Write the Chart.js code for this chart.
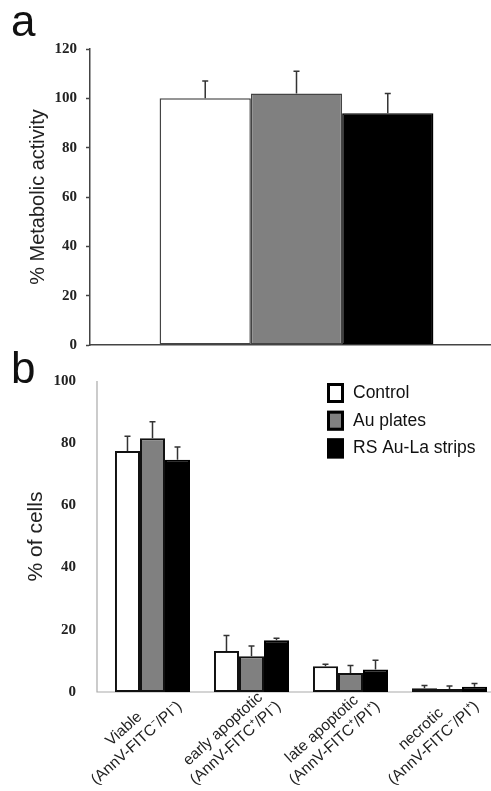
<!DOCTYPE html>
<html>
<head>
<meta charset="utf-8">
<script src="https://cdn.jsdelivr.net/npm/chart.js@4.4.0/dist/chart.umd.min.js"></script>
<style>
  html, body { margin: 0; padding: 0; background: #fff; overflow: hidden; }
  #page { position: relative; width: 491px; height: 791px; overflow: hidden; }
  canvas { position: absolute; left: 0; }
  #chart-a { top: 0; }
  #chart-b { top: 350px; }
  .panel { position: absolute; font: 44px/44px "Liberation Sans", Arial, sans-serif; color: #111; }
</style>
</head>
<body>
<div id="page">
  <canvas id="chart-a" width="505" height="363"></canvas>
  <canvas id="chart-b" width="505" height="441"></canvas>
  <div class="panel" style="left:11px; top:-1px">a</div>
  <div class="panel" style="left:11px; top:346px">b</div>
</div>
<script>
const SERIES = ["Control", "Au plates", "RS Au-La strips"];

// panel a - metabolic activity
const metabolicCats = [""];
const metabolicControl = [100];
const metabolicAu = [102];
const metabolicRS = [94];
const metabolicControlErr = [7];
const metabolicAuErr = [9];
const metabolicRSErr = [8];

// panel b - annexin V / PI staining
const cellCats = [
    ["Viable", "(AnnV-FITC⁻/PI⁻)"],
    ["early apoptotic", "(AnnV-FITC⁺/PI⁻)"],
    ["late apoptotic", "(AnnV-FITC⁺/PI⁺)"],
    ["necrotic", "(AnnV-FITC⁻/PI⁺)"],
];
const cellControl = [77.5, 13.2, 8.3, 1.2];
const cellAu = [81.6, 11.5, 6.1, 1.0];
const cellRS = [74.7, 16.6, 7.2, 1.7];
const cellControlErr = [4.7, 5.0, 0.6, 0.9];
const cellAuErr = [5.3, 3.3, 2.4, 0.9];
const cellRSErr = [4.1, 0.7, 3.0, 1.0];

const SANS = '"Liberation Sans", Arial, sans-serif';
const SERIF = '"Liberation Serif", "Times New Roman", serif';
const fills = ["#ffffff", "#808080", "#000000"];

// upper error bars only, like the figure
const errorBars = {
    id: "errorBars",
    afterDatasetsDraw(chart, args, opts) {
        const { ctx, scales: { y } } = chart;
        ctx.save();
        ctx.strokeStyle = "#333";
        ctx.lineWidth = 1.5;
        chart.data.datasets.forEach((ds, i) => {
            chart.getDatasetMeta(i).data.forEach((bar, j) => {
                const top = y.getPixelForValue(ds.data[j] + ds.errors[j]);
                ctx.beginPath();
                ctx.moveTo(bar.x, bar.y);
                ctx.lineTo(bar.x, top);
                ctx.moveTo(bar.x - opts.cap, top);
                ctx.lineTo(bar.x + opts.cap, top);
                ctx.stroke();
            });
        });
        ctx.restore();
    },
};

// panel b axes sit a little left of the first group
const offsetAxes = {
    id: "offsetAxes",
    beforeDatasetsDraw(chart) {
        const { ctx, chartArea: { left, right, top, bottom } } = chart;
        ctx.save();
        ctx.strokeStyle = "#aaa";
        ctx.lineWidth = 1.2;
        ctx.beginPath();
        ctx.moveTo(left - 6, top);
        ctx.lineTo(left - 6, bottom);
        ctx.lineTo(right, bottom);
        ctx.stroke();
        ctx.restore();
    },
};

// two-line labels, centred and slanted
const slantedLabels = {
    id: "slantedLabels",
    afterDraw(chart) {
        const { ctx, chartArea, scales: { x } } = chart;
        ctx.save();
        ctx.font = "15.5px " + SANS;
        ctx.fillStyle = "#222";
        ctx.textAlign = "center";
        ctx.textBaseline = "middle";
        chart.data.labels.forEach((lines, i) => {
            ctx.save();
            ctx.translate(x.getPixelForTick(i), chartArea.bottom);
            ctx.rotate(-42 * Math.PI / 180);
            lines.forEach((line, k) => {
                ctx.fillText(line, -46, 18 + (k - 0.5) * 19);
            });
            ctx.restore();
        });
        ctx.restore();
    },
};

const boxLegend = {
    id: "boxLegend",
    afterDraw(chart) {
        const { ctx } = chart;
        ctx.save();
        ctx.font = "17.5px " + SANS;
        ctx.textBaseline = "middle";
        chart.data.datasets.forEach((ds, i) => {
            const y = 43 + i * 27.7;
            ctx.fillStyle = ds.backgroundColor;
            ctx.fillRect(327, y - 10, 17, 20);
            ctx.lineWidth = 3;
            ctx.strokeStyle = "#000";
            ctx.strokeRect(328.5, y - 8.5, 14, 17);
            ctx.fillStyle = "#111";
            ctx.fillText(ds.label, 353, y);
        });
        ctx.restore();
    },
};

function makeSets(values, errors, border, width) {
    return values.map((data, i) => ({
        label: SERIES[i],
        data,
        errors: errors[i],
        backgroundColor: fills[i],
        borderColor: i === 2 ? "#000" : border,
        borderWidth: width,
        borderSkipped: false,
    }));
}

new Chart(document.getElementById("chart-a"), {
    type: "bar",
    data: {
        labels: metabolicCats,
        datasets: makeSets(
            [metabolicControl, metabolicAu, metabolicRS],
            [metabolicControlErr, metabolicAuErr, metabolicRSErr],
            "#444", 1.5
        ),
    },
    options: {
        responsive: false,
        animation: false,
        layout: { padding: { top: 49, right: 2, bottom: 5, left: 0 } },
        datasets: { bar: { categoryPercentage: 0.663, barPercentage: 1 } },
        plugins: {
            legend: { display: false },
            tooltip: { enabled: false },
            errorBars: { cap: 3 },
        },
        scales: {
            x: {
                grid: { display: false },
                border: { display: true, color: "#444", width: 1.5 },
                ticks: { display: false },
                afterFit: (s) => { s.height = 0; },
            },
            y: {
                min: 0,
                max: 120,
                ticks: { stepSize: 20, padding: 9, color: "#222", font: { family: SERIF, size: 15, weight: "bold" } },
                grid: { drawOnChartArea: false, drawTicks: true, tickLength: 4, color: "#444", tickWidth: 1.5 },
                border: { display: true, color: "#444", width: 1.5 },
                title: {
                    display: true,
                    text: "% Metabolic activity",
                    color: "#222",
                    font: { family: SANS, size: 20 },
                    padding: { top: 26, bottom: 0 },
                },
                afterFit: (s) => { s.width = 90; },
            },
        },
    },
    plugins: [errorBars],
});

new Chart(document.getElementById("chart-b"), {
    type: "bar",
    data: {
        labels: cellCats,
        datasets: makeSets(
            [cellControl, cellAu, cellRS],
            [cellControlErr, cellAuErr, cellRSErr],
            "#111", 2
        ),
    },
    options: {
        responsive: false,
        animation: false,
        layout: { padding: { top: 31, right: 6, bottom: 99, left: 0 } },
        datasets: { bar: { categoryPercentage: 0.758, barPercentage: 1 } },
        plugins: {
            legend: { display: false },
            tooltip: { enabled: false },
            errorBars: { cap: 3 },
        },
        scales: {
            x: {
                grid: { display: false },
                border: { display: false },
                ticks: { display: false },
                afterFit: (s) => { s.height = 0; },
            },
            y: {
                min: 0,
                max: 100,
                ticks: { stepSize: 20, padding: 19, color: "#222", font: { family: SERIF, size: 15, weight: "bold" } },
                grid: { display: false },
                border: { display: false },
                title: {
                    display: true,
                    text: "% of cells",
                    color: "#222",
                    font: { family: SANS, size: 21 },
                    padding: { top: 24, bottom: 0 },
                },
                afterFit: (s) => { s.width = 103; },
            },
        },
    },
    plugins: [offsetAxes, errorBars, slantedLabels, boxLegend],
});
</script>
</body>
</html>
